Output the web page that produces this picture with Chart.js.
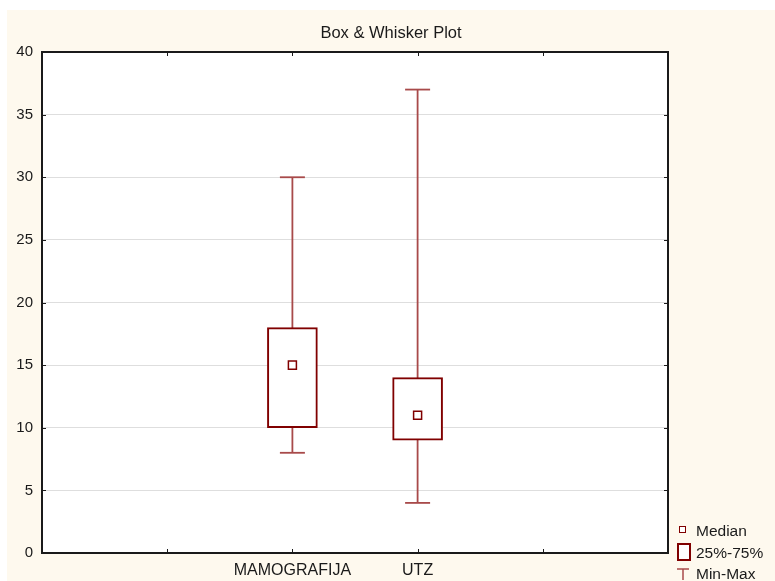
<!DOCTYPE html>
<html>
<head>
<meta charset="utf-8">
<script src="https://cdn.jsdelivr.net/npm/chart.js@4"></script>
<style>
  html, body { margin: 0; padding: 0; background: #ffffff; width: 775px; height: 581px; overflow: hidden; }
  #wrap { position: absolute; left: 7px; top: 10px; width: 768px; height: 571px; background: #fef9ee; }
  #legend { position: absolute; left: 669px; top: 521px; font-family: "Liberation Sans", Arial, sans-serif; font-size: 15.5px; color: #1a1a1a; }
  .item { position: absolute; left: 0; white-space: nowrap; }
  .txt { position: absolute; left: 20px; line-height: 18px; }
  .med { position: absolute; left: 10px; width: 5px; height: 5px; border: 1.5px solid #800000; background: #fff; }
  .box { position: absolute; left: 1px; width: 10px; height: 14px; border: 2px solid #800000; background: #fff; }
  .mm { position: absolute; left: 1px; width: 14px; height: 12px; }
</style>
</head>
<body>
<div id="wrap"><canvas id="c"></canvas></div>
<div id="legend">
  <div class="item" style="top:0px"><div class="med" style="top:5px"></div><span class="txt" style="top:1px;left:27px">Median</span></div>
  <div class="item" style="top:22px"><div class="box" style="left:8px;top:0px"></div><span class="txt" style="top:1px;left:27px">25%-75%</span></div>
  <div class="item" style="top:42px">
    <svg class="mm" style="left:7px;top:5px" width="14" height="14"><line x1="1" y1="1" x2="13" y2="1" stroke="#a84a4a" stroke-width="1.5"/><line x1="7" y1="1" x2="7" y2="13" stroke="#a84a4a" stroke-width="1.5"/><line x1="1" y1="13" x2="13" y2="13" stroke="#a84a4a" stroke-width="1.5"/></svg>
    <span class="txt" style="top:2px;left:27px">Min-Max</span></div>
</div>
<script>
const categories = ["MAMOGRAFIJA", "UTZ"];
const minValues = [8, 4];
const q1Values = [10, 9];
const medianValues = [15, 11];
const q3Values = [18, 14];
const maxValues = [30, 37];
const yTicks = [0, 5, 10, 15, 20, 25, 30, 35, 40];

const FONT = '"Liberation Sans", Arial, sans-serif';
const BOX = '#800000';
const WHISK = '#a84a4a';
const firstSlot = 2; // categories sit on slot lines 2 and 3 of a 0..5 axis

const datasets = [];
categories.forEach((c, i) => {
  datasets.push({
    type: 'line',
    label: c + ' whisker',
    data: [{x: i + firstSlot, y: minValues[i]}, {x: i + firstSlot, y: maxValues[i]}],
    borderColor: WHISK,
    borderWidth: 1.8,
    pointStyle: 'line',
    pointRadius: 12.5,
    pointBorderWidth: 1.8,
    pointBorderColor: WHISK,
    pointHoverRadius: 12.5,
    order: 3
  });
});
datasets.push({
  type: 'bar',
  label: '25%-75%',
  data: categories.map((c, i) => ({x: i + firstSlot, y: [q1Values[i], q3Values[i]]})),
  backgroundColor: '#ffffff',
  borderColor: BOX,
  borderWidth: 2,
  borderSkipped: false,
  barThickness: 50,
  order: 2
});
datasets.push({
  type: 'scatter',
  label: 'Median',
  data: categories.map((c, i) => ({x: i + firstSlot, y: medianValues[i]})),
  pointStyle: 'rect',
  pointRadius: 5.66,
  pointBorderWidth: 1.5,
  pointBorderColor: BOX,
  pointBackgroundColor: '#ffffff',
  order: 1
});

const framePlugin = {
  id: 'frame',
  beforeDraw(chart) {
    const a = chart.chartArea, ctx = chart.ctx;
    ctx.save();
    ctx.fillStyle = '#ffffff';
    ctx.fillRect(a.left, a.top, a.right - a.left, a.bottom - a.top);
    ctx.restore();
  },
  afterDraw(chart) {
    const a = chart.chartArea, ctx = chart.ctx;
    const xs = chart.scales.x, ys = chart.scales.y;
    ctx.save();
    ctx.strokeStyle = '#1a1a1a';
    ctx.lineWidth = 1;
    ctx.beginPath();
    for (let v = 1; v <= 4; v++) {
      const px = Math.round(xs.getPixelForValue(v)) + 0.5;
      ctx.moveTo(px, a.bottom); ctx.lineTo(px, a.bottom - 4);
      ctx.moveTo(px, a.top); ctx.lineTo(px, a.top + 4);
    }
    yTicks.forEach(v => {
      const py = Math.round(ys.getPixelForValue(v)) + 0.5;
      ctx.moveTo(a.right, py); ctx.lineTo(a.right - 4, py);
      ctx.moveTo(a.left, py); ctx.lineTo(a.left + 4, py);
    });
    ctx.stroke();
    ctx.lineWidth = 2;
    ctx.strokeRect(a.left, a.top, a.right - a.left, a.bottom - a.top);
    ctx.restore();
  }
};

new Chart(document.getElementById('c'), {
  type: 'bar',
  data: { datasets },
  plugins: [framePlugin],
  options: {
    responsive: true,
    maintainAspectRatio: false,
    animation: false,
    layout: { padding: 0 },
    plugins: {
      legend: { display: false },
      tooltip: { enabled: false },
      title: {
        display: true,
        text: 'Box & Whisker Plot',
        color: '#1a1a1a',
        font: { family: FONT, size: 16.5, weight: 'normal' },
        padding: { top: 13.2, bottom: 9.0 }
      }
    },
    scales: {
      x: {
        type: 'linear',
        min: 0,
        max: 5,
        offset: false,
        grid: { display: false, drawTicks: false },
        border: { display: false },
        afterFit(s) { s.height = 28; },
        afterBuildTicks(s) { s.ticks = [0, 1, 2, 3, 4, 5].map(v => ({value: v})); },
        ticks: {
          padding: 8,
          maxRotation: 0,
          autoSkip: false,
          color: '#1a1a1a',
          font: { family: FONT, size: 16 },
          callback: (v) => {
            const i = v - firstSlot;
            return (i >= 0 && i < categories.length) ? categories[i] : '';
          }
        }
      },
      y: {
        min: 0,
        max: 40,
        afterFit(s) { s.width = 35; },
        afterBuildTicks(s) { s.ticks = yTicks.map(v => ({value: v})); },
        grid: { color: '#dedede', lineWidth: 1, drawTicks: false },
        border: { display: false },
        ticks: {
          padding: 9,
          color: '#1a1a1a',
          font: { family: FONT, size: 15 }
        }
      },
      yRight: {
        position: 'right',
        min: 0,
        max: 40,
        afterFit(s) { s.width = 107; },
        grid: { display: false, drawTicks: false },
        border: { display: false },
        ticks: { display: false }
      }
    }
  }
});
</script>
</body>
</html>
